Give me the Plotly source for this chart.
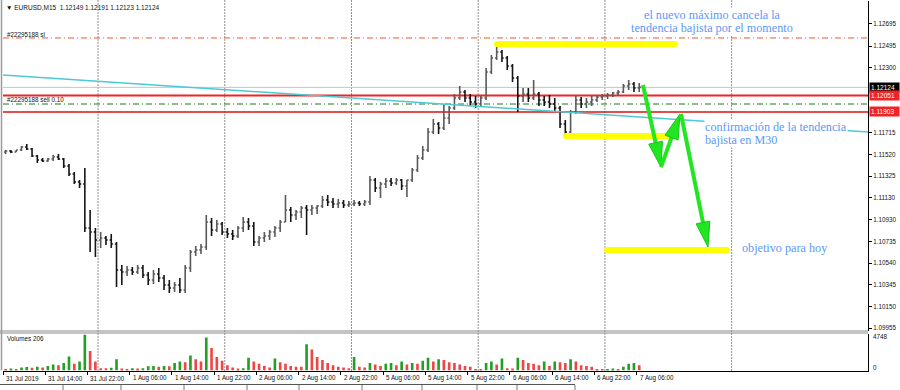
import plotly.graph_objects as go

# ---------------- data (hourly bars, hour 0 = 31 Jul 2019 06:00) ----------------
hours = list(range(121))

opens = [
    1.11542, 1.11551, 1.11542, 1.11560, 1.11587, 1.11569, 1.11506, 1.11470, 1.11461, 1.11479,
    1.11497, 1.11479, 1.11415, 1.11343, 1.11271, 1.11253, 1.10857, 1.10821, 1.10749, 1.10767,
    1.10749, 1.10713, 1.10478, 1.10460, 1.10478, 1.10460, 1.10496, 1.10433, 1.10388, 1.10442,
    1.10406, 1.10343, 1.10316, 1.10343, 1.10298, 1.10496, 1.10641, 1.10659, 1.10686, 1.10911,
    1.10839, 1.10893, 1.10821, 1.10803, 1.10785, 1.10857, 1.10911, 1.10875, 1.10731, 1.10767,
    1.10785, 1.10821, 1.10857, 1.10911, 1.11019, 1.10974, 1.11001, 1.11037, 1.11019, 1.11037,
    1.11055, 1.11109, 1.11091, 1.11073, 1.11082, 1.11064, 1.11073, 1.11082, 1.11073, 1.11091,
    1.11289, 1.11217, 1.11253, 1.11280, 1.11262, 1.11289, 1.11235, 1.11289, 1.11379, 1.11488,
    1.11560, 1.11722, 1.11794, 1.11758, 1.11848, 1.11938, 1.12028, 1.12082, 1.12028, 1.11992,
    1.11974, 1.12028, 1.12262, 1.12388, 1.12442, 1.12388, 1.12316, 1.12208, 1.12046, 1.12064,
    1.12028, 1.12064, 1.12010, 1.11992, 1.11974, 1.11938, 1.11794, 1.11722, 1.11902, 1.12010,
    1.11974, 1.11992, 1.12010, 1.12037, 1.12046, 1.12055, 1.12073, 1.12082, 1.12136, 1.12154,
    1.12118,
]
highs = [
    1.11560, 1.11560, 1.11560, 1.11596, 1.11614, 1.11578, 1.11515, 1.11488, 1.11488, 1.11515,
    1.11524, 1.11488, 1.11433, 1.11361, 1.11289, 1.11397, 1.11019, 1.10857, 1.10821, 1.10785,
    1.10803, 1.10731, 1.10523, 1.10514, 1.10505, 1.10523, 1.10523, 1.10460, 1.10478, 1.10496,
    1.10433, 1.10388, 1.10370, 1.10406, 1.10523, 1.10659, 1.10695, 1.10713, 1.10974, 1.10947,
    1.10929, 1.10911, 1.10857, 1.10839, 1.10875, 1.10956, 1.10947, 1.10911, 1.10785, 1.10821,
    1.10839, 1.10875, 1.10929, 1.11154, 1.11046, 1.11019, 1.11055, 1.11064, 1.11064, 1.11064,
    1.11145, 1.11154, 1.11127, 1.11118, 1.11109, 1.11100, 1.11109, 1.11100, 1.11109, 1.11325,
    1.11307, 1.11271, 1.11307, 1.11307, 1.11307, 1.11298, 1.11289, 1.11397, 1.11515, 1.11596,
    1.11758, 1.11839, 1.11812, 1.11974, 1.11956, 1.12064, 1.12136, 1.12100, 1.12064, 1.12046,
    1.12046, 1.12298, 1.12415, 1.12497, 1.12460, 1.12406, 1.12334, 1.12226, 1.12118, 1.12118,
    1.12190, 1.12082, 1.12046, 1.12055, 1.12028, 1.11956, 1.11830, 1.11920, 1.12055, 1.12037,
    1.12028, 1.12046, 1.12055, 1.12064, 1.12073, 1.12082, 1.12100, 1.12154, 1.12190, 1.12172,
    1.12163,
]
lows = [
    1.11524, 1.11533, 1.11542, 1.11551, 1.11560, 1.11497, 1.11442, 1.11452, 1.11452, 1.11461,
    1.11470, 1.11397, 1.11325, 1.11253, 1.11217, 1.10821, 1.10641, 1.10596, 1.10677, 1.10704,
    1.10677, 1.10325, 1.10343, 1.10424, 1.10433, 1.10442, 1.10406, 1.10343, 1.10352, 1.10370,
    1.10298, 1.10271, 1.10280, 1.10271, 1.10271, 1.10460, 1.10605, 1.10623, 1.10659, 1.10785,
    1.10821, 1.10794, 1.10767, 1.10749, 1.10767, 1.10821, 1.10839, 1.10695, 1.10695, 1.10731,
    1.10749, 1.10776, 1.10821, 1.10911, 1.10911, 1.10929, 1.10947, 1.10794, 1.10974, 1.10983,
    1.11037, 1.11055, 1.11037, 1.11037, 1.11037, 1.11046, 1.11055, 1.11055, 1.11055, 1.11064,
    1.11181, 1.11127, 1.11217, 1.11235, 1.11244, 1.11199, 1.11136, 1.11271, 1.11361, 1.11470,
    1.11542, 1.11704, 1.11704, 1.11740, 1.11794, 1.11920, 1.12010, 1.11992, 1.11956, 1.11938,
    1.11956, 1.12010, 1.12244, 1.12370, 1.12352, 1.12280, 1.12172, 1.11902, 1.11992, 1.11992,
    1.12010, 1.11956, 1.11956, 1.11938, 1.11902, 1.11758, 1.11686, 1.11677, 1.11884, 1.11938,
    1.11938, 1.11956, 1.11992, 1.12010, 1.12019, 1.12037, 1.12046, 1.12073, 1.12100, 1.12082,
    1.12082,
]
closes = [
    1.11551, 1.11542, 1.11560, 1.11587, 1.11569, 1.11506, 1.11470, 1.11461, 1.11479, 1.11497,
    1.11479, 1.11415, 1.11343, 1.11271, 1.11253, 1.10857, 1.10821, 1.10749, 1.10767, 1.10749,
    1.10713, 1.10478, 1.10460, 1.10478, 1.10460, 1.10496, 1.10433, 1.10388, 1.10442, 1.10406,
    1.10343, 1.10316, 1.10343, 1.10298, 1.10496, 1.10641, 1.10659, 1.10686, 1.10911, 1.10839,
    1.10893, 1.10821, 1.10803, 1.10785, 1.10857, 1.10911, 1.10875, 1.10731, 1.10767, 1.10785,
    1.10821, 1.10857, 1.10911, 1.11019, 1.10974, 1.11001, 1.11037, 1.11019, 1.11037, 1.11055,
    1.11109, 1.11091, 1.11073, 1.11082, 1.11064, 1.11073, 1.11082, 1.11073, 1.11091, 1.11289,
    1.11217, 1.11253, 1.11280, 1.11262, 1.11289, 1.11235, 1.11289, 1.11379, 1.11488, 1.11560,
    1.11722, 1.11794, 1.11758, 1.11848, 1.11938, 1.12028, 1.12082, 1.12028, 1.11992, 1.11974,
    1.12028, 1.12262, 1.12388, 1.12442, 1.12388, 1.12316, 1.12208, 1.12046, 1.12064, 1.12028,
    1.12064, 1.12010, 1.11992, 1.11974, 1.11938, 1.11794, 1.11722, 1.11902, 1.12010, 1.11974,
    1.11992, 1.12010, 1.12037, 1.12046, 1.12055, 1.12073, 1.12082, 1.12136, 1.12154, 1.12118,
    1.12124,
]
volumes = [
    200, 250, 200, 400, 450, 350, 500, 400, 600, 800,
    700, 1000, 1850, 900, 1200, 4748, 2600, 1200, 300, 300,
    350, 1500, 250, 200, 300, 250, 300, 550, 600, 500,
    600, 550, 1000, 1200, 1100, 2000, 1500, 1200, 4400, 3000,
    1800, 1300, 700, 400, 250, 300, 1700, 1200, 900, 600,
    400, 1600, 1100, 900, 600, 500, 500, 3500, 2800, 1800,
    1400, 1000, 700, 500, 400, 300, 1800, 500, 400, 1000,
    800, 600, 900, 1000, 700, 1200, 800, 1000, 900, 1300,
    1700, 1200, 1500, 1400, 1100, 1000, 800, 600, 500, 200,
    150, 1000, 1200, 800, 1600, 300, 250, 1700, 1400, 1000,
    900, 700, 1200, 600, 1200, 1100, 1000, 1500, 1200, 700,
    600, 500, 200, 150, 200, 250, 150, 500, 900, 1000,
    700,
]

tick_hours = [0, 8, 16, 24, 32, 40, 48, 56, 64, 72, 80, 88, 96, 104, 112, 120]
tick_text = ["31 Jul 2019", "31 Jul 14:00", "31 Jul 22:00", "1 Aug 06:00", "1 Aug 14:00",
             "1 Aug 22:00", "2 Aug 06:00", "2 Aug 14:00", "2 Aug 22:00", "5 Aug 06:00",
             "5 Aug 14:00", "5 Aug 22:00", "6 Aug 06:00", "6 Aug 14:00", "6 Aug 22:00",
             "7 Aug 06:00"]
day_grid_hours = [18, 42, 66, 90, 114, 138]
price_ticks = [1.12695, 1.12495, 1.12300, 1.11715, 1.11520, 1.11325, 1.11130,
               1.10930, 1.10735, 1.10540, 1.10345, 1.10150, 1.09955]

bid_price = 1.12124
sl_price = 1.12569
red_upper = 1.12051
sell_price = 1.11974
red_lower = 1.11903

trend_h = [0, 163.83]
trend_p = [1.12235, 1.11722]

yellow_h0 = [93.56, 106.6, 114.4]
yellow_h1 = [127.27, 125.9, 137.1]
yellow_p = [1.12515, 1.11686, 1.10659]

arrow_h0 = [121.21, 124.62, 128.41]
arrow_p0 = [1.12145, 1.11406, 1.11884]
arrow_h1 = [124.62, 128.22, 133.52]
arrow_p1 = [1.11406, 1.11884, 1.10686]

# ---------------- layout geometry ----------------
W, H = 900, 390
X_LEFT, X_RIGHT = 3, 868
MAIN_TOP, MAIN_BOT = 1, 331
VOL_TOP, VOL_BOT = 334, 370.5
x_range = [0, 163.83]
y_range = [1.09929, 1.12902]
vol_range = [0, 4850]

SANS = "Liberation Sans, Arial, DejaVu Sans, sans-serif"
SERIF = "Liberation Serif, Times New Roman, serif"
BLUE = "#5c98f7"

def pxx(p):
    return p / W

def pxy(p):
    return 1 - p / H

PX_PER_H = (X_RIGHT - X_LEFT) / (x_range[1] - x_range[0])
PX_PER_P = (MAIN_BOT - MAIN_TOP) / (y_range[1] - y_range[0])

bar_x = [h + 0.5 for h in hours]
vol_colors = []
for i, v in enumerate(volumes):
    prev = volumes[i - 1] if i > 0 else v
    vol_colors.append("#23a023" if v > prev else "#f04545")

fig = go.Figure()

# cyan trend line
fig.add_trace(go.Scatter(x=trend_h, y=trend_p, mode="lines",
                         line=dict(color="#4cc9d4", width=1.5), hoverinfo="skip"))

# price bars (thin, like a compressed MT4 bar chart)
fig.add_trace(go.Ohlc(
    x=bar_x, open=opens, high=highs, low=lows, close=closes,
    increasing=dict(line=dict(color="#5a5a5a", width=1.6)),
    decreasing=dict(line=dict(color="#151515", width=1.6)),
    tickwidth=0.32, hoverinfo="skip"))

# volumes
fig.add_trace(go.Bar(x=bar_x, y=volumes, marker=dict(color=vol_colors, line=dict(width=0)),
                     width=0.5, yaxis="y2", hoverinfo="skip"))

# yellow highlighter lines
for a, b, p in zip(yellow_h0, yellow_h1, yellow_p):
    fig.add_trace(go.Scatter(x=[a, b], y=[p, p], mode="lines+markers",
                             line=dict(color="#ffff00", width=6),
                             marker=dict(color="#ffff00", size=6),
                             hoverinfo="skip"))

# green arrows
HEAD_LEN, HEAD_W = 25, 14
for h0, p0, h1, p1 in zip(arrow_h0, arrow_p0, arrow_h1, arrow_p1):
    X0, Y0 = h0 * PX_PER_H, -p0 * PX_PER_P
    X1, Y1 = h1 * PX_PER_H, -p1 * PX_PER_P
    dx, dy = X1 - X0, Y1 - Y0
    L = (dx * dx + dy * dy) ** 0.5
    ux, uy = dx / L, dy / L
    bx, by = X1 - ux * HEAD_LEN, Y1 - uy * HEAD_LEN
    nx, ny = -uy, ux
    sx, sy = bx + ux * 3, by + uy * 3
    fig.add_trace(go.Scatter(x=[h0, sx / PX_PER_H], y=[p0, -sy / PX_PER_P], mode="lines",
                             line=dict(color="#22e622", width=4), hoverinfo="skip"))
    tri = [(X1, Y1), (bx + nx * HEAD_W / 2, by + ny * HEAD_W / 2),
           (bx - nx * HEAD_W / 2, by - ny * HEAD_W / 2), (X1, Y1)]
    fig.add_trace(go.Scatter(x=[t[0] / PX_PER_H for t in tri], y=[-t[1] / PX_PER_P for t in tri],
                             mode="lines", fill="toself", fillcolor="#22e622",
                             line=dict(color="#18c418", width=1), hoverinfo="skip"))

shapes = []
# vertical dotted day grid
for gh in day_grid_hours:
    shapes.append(dict(type="line", xref="x", yref="paper", x0=gh, x1=gh,
                       y0=pxy(VOL_BOT), y1=pxy(0), layer="below",
                       line=dict(color="#222222", width=1, dash="1px,2px")))
# horizontal price lines
shapes.append(dict(type="line", xref="x domain", yref="y", x0=0, x1=1, y0=sl_price, y1=sl_price,
                   layer="below", line=dict(color="#f0562a", width=1, dash="6px,3px,1px,3px")))
shapes.append(dict(type="line", xref="x domain", yref="y", x0=0, x1=1, y0=bid_price, y1=bid_price,
                   layer="below", line=dict(color="#c4c4c4", width=1)))
shapes.append(dict(type="line", xref="x domain", yref="y", x0=0, x1=1, y0=red_upper, y1=red_upper,
                   layer="below", line=dict(color="#f02424", width=2)))
shapes.append(dict(type="line", xref="x domain", yref="y", x0=0, x1=1, y0=sell_price, y1=sell_price,
                   layer="below", line=dict(color="#1f7a1f", width=1, dash="6px,3px,1px,3px")))
shapes.append(dict(type="line", xref="x domain", yref="y", x0=0, x1=1, y0=red_lower, y1=red_lower,
                   layer="below", line=dict(color="#dd1010", width=1.5)))
# panel separator (double line)
for yy in (331, 333):
    shapes.append(dict(type="line", xref="paper", yref="paper", x0=0, x1=pxx(X_RIGHT),
                       y0=pxy(yy), y1=pxy(yy), line=dict(color="#8a8a8a", width=1)))
# left window border
shapes.append(dict(type="line", xref="paper", yref="paper", x0=pxx(1.5), x1=pxx(1.5),
                   y0=pxy(VOL_BOT), y1=1, line=dict(color="#9a9a9a", width=1.5)))
# bottom tab bar
shapes.append(dict(type="line", xref="paper", yref="paper", x0=0, x1=pxx(575),
                   y0=pxy(384.5), y1=pxy(384.5), line=dict(color="#555555", width=1)))
for tx in [63, 121, 184, 247, 299, 362, 422, 477, 517, 575]:
    shapes.append(dict(type="line", xref="paper", yref="paper", x0=pxx(tx), x1=pxx(tx),
                       y0=0, y1=pxy(385), line=dict(color="#777777", width=1)))

def ann(text, x, y, size, color="#111111", xanchor="left", family=SANS, bg=None, **kw):
    d = dict(text=text, x=pxx(x), y=pxy(y), xref="paper", yref="paper",
             xanchor=xanchor, yanchor="middle", showarrow=False,
             font=dict(family=family, size=size, color=color), borderpad=0)
    if bg:
        d["bgcolor"] = bg
    d.update(kw)
    return d

annotations = [
    ann("▼ EURUSD,M15  1.12149 1.12191 1.12123 1.12124", 5, 7, 6.5),
    ann("#22295188 sl", 6, 34, 6.3),
    ann("#22295188 sell 0.10", 6, 100, 6.3),
    ann("Volumes 206", 6, 338, 6.3),
    ann("4748", 872, 336.5, 6.3),
    ann("0", 872, 367, 6.3),
    ann("el nuevo máximo cancela la", 712, 15, 12.2, color=BLUE, xanchor="center", family=SERIF, bg="white"),
    ann("tendencia bajista por el momento", 712, 28, 12.2, color=BLUE, xanchor="center", family=SERIF, bg="white"),
    ann("confirmación de la tendencia", 704, 127, 12.2, color=BLUE, family=SERIF, bg="white"),
    ann("bajista en M30", 704, 140, 12.2, color=BLUE, family=SERIF, bg="white"),
    ann("objetivo para hoy", 741, 248, 12.2, color=BLUE, family=SERIF, bg="white"),
]
# price boxes on the right axis
for price, bg in [(bid_price, "#000000"), (red_upper, "#f02424"), (red_lower, "#f02424")]:
    annotations.append(dict(text="%.5f" % price, x=pxx(869), y=price, xref="paper", yref="y",
                            xanchor="left", yanchor="middle", showarrow=False,
                            font=dict(family=SANS, size=6.5, color="white"),
                            bgcolor=bg, borderpad=1, width=27, align="left"))
# time labels (left-aligned at ticks)
for th, tt in zip(tick_hours, tick_text):
    annotations.append(dict(text=tt, x=th, y=pxy(378), xref="x", yref="paper",
                            xanchor="left", yanchor="middle", xshift=1, showarrow=False,
                            font=dict(family=SANS, size=6.3, color="#111111")))

fig.update_layout(
    width=W, height=H, autosize=False,
    margin=dict(l=0, r=0, t=0, b=0, pad=0),
    paper_bgcolor="white", plot_bgcolor="white",
    showlegend=False, hovermode=False, dragmode=False,
    xaxis=dict(domain=[pxx(X_LEFT), pxx(X_RIGHT)], range=x_range, anchor="y2",
               showgrid=False, zeroline=False, tickvals=tick_hours, ticks="outside",
               ticklen=3, tickcolor="#000", showticklabels=False, showline=True,
               linecolor="#000", linewidth=1, rangeslider=dict(visible=False),
               fixedrange=True, automargin=False),
    yaxis=dict(domain=[pxy(MAIN_BOT), pxy(MAIN_TOP)], range=y_range, side="right", anchor="x",
               tickvals=price_ticks, ticktext=["%.5f" % v for v in price_ticks],
               ticks="outside", ticklen=3, tickcolor="#000", showline=True,
               linecolor="#000", linewidth=1, showgrid=False, zeroline=False,
               tickfont=dict(family=SANS, size=6.3, color="#111111"),
               fixedrange=True, automargin=False),
    yaxis2=dict(domain=[pxy(VOL_BOT), pxy(VOL_TOP)], range=vol_range, side="right", anchor="x",
                showticklabels=False, ticks="", showline=True, linecolor="#000", linewidth=1,
                showgrid=False, zeroline=False, fixedrange=True, automargin=False),
    shapes=shapes,
    annotations=annotations,
)

fig.write_html("out.html")
